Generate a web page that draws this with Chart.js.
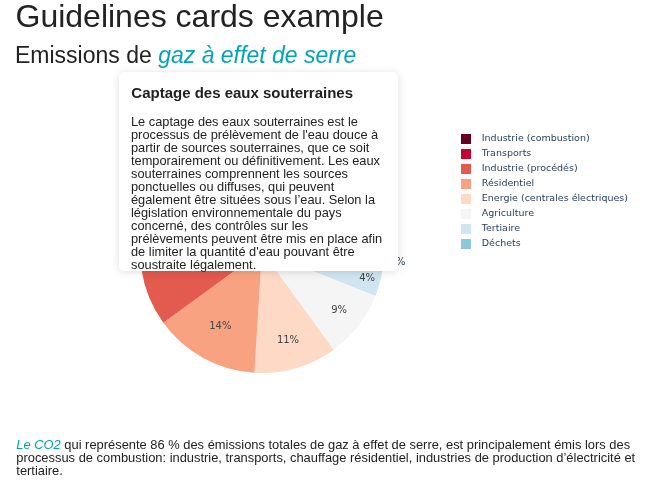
<!DOCTYPE html>
<html>
<head>
<meta charset="utf-8">
<script src="https://cdn.jsdelivr.net/npm/chart.js@4.4.1/dist/chart.umd.min.js"></script>
<style>
  html, body { margin:0; padding:0; width:654px; height:490px; overflow:hidden; background:#fff;
    font-family:"Liberation Sans", Arial, Helvetica, sans-serif; color:#222; }
  #chart { position:absolute; left:0; top:0; }
  .abs { position:absolute; white-space:nowrap; }
  #title { left:15.5px; top:-0.4px; font-size:32px; line-height:32px; color:#222; }
  #subtitle { left:15px; top:43.8px; font-size:23px; line-height:23px; color:#222; }
  .hl { color:#01a4b6; font-style:italic; }
  #card { position:absolute; left:119px; top:72px; width:279px; height:199px; background:#fff;
    border-radius:5px; box-shadow:0 1px 8px rgba(0,0,0,0.13); }
  #cardTitle { position:absolute; left:12.3px; top:12.8px; font-size:15px; line-height:15px; font-weight:bold; color:#222; white-space:nowrap; }
  #cardBody { position:absolute; left:12px; top:42.6px; width:253px; font-size:12.8px; line-height:13px; color:#222; }
  #foot { position:absolute; left:16.3px; top:437.8px; width:630px; font-size:12.9px; line-height:13px; color:#222; }
</style>
</head>
<body>
<canvas id="chart" width="654" height="490"></canvas>
<div id="title" class="abs">Guidelines cards example</div>
<div id="subtitle" class="abs">Emissions de <span class="hl">gaz à effet de serre</span></div>
<div id="card">
  <div id="cardTitle">Captage des eaux souterraines</div>
  <div id="cardBody">Le captage des eaux souterraines est le processus de prélèvement de l'eau douce à partir de sources souterraines, que ce soit temporairement ou définitivement. Les eaux souterraines comprennent les sources ponctuelles ou diffuses, qui peuvent également être situées sous l’eau. Selon la législation environnementale du pays concerné, des contrôles sur les prélèvements peuvent être mis en place afin de limiter la quantité d'eau pouvant être soustraite légalement.</div>
</div>
<div id="foot"><span class="hl">Le CO2</span> qui représente 86 % des émissions totales de gaz à effet de serre, est principalement émis lors des processus de combustion: industrie, transports, chauffage résidentiel, industries de production d’électricité et tertiaire.</div>

<script>
// ---- data (legend order) ----
const categories = ['Industrie (combustion)', 'Transports', 'Industrie (procédés)', 'Résidentiel',
  'Energie (centrales électriques)', 'Agriculture', 'Tertiaire', 'Déchets'];
const shares = [25, 20, 15, 14, 11, 9, 4, 2];
const sliceColors = ['#67001f', '#c6002f', '#e35a4e', '#f9a282', '#fdd9c6', '#f5f5f5', '#cfe5ef', '#8bc7de'];

// slices run counter-clockwise from 3 o'clock in the reference: feed them reversed, clockwise
const cjLabels = categories.slice().reverse();
const cjValues = shares.slice().reverse();
const cjColors = sliceColors.slice().reverse();

const legendFont = { family: 'DejaVu Sans', size: 9.5 };
const legendPad = 5, legendBox = 10;

// measure the widest legend label so the legend box starts where the reference has it
const mctx = document.createElement('canvas').getContext('2d');
mctx.font = legendFont.size + 'px "' + legendFont.family + '"';
let maxW = 0;
categories.forEach(c => { maxW = Math.max(maxW, mctx.measureText('  ' + c).width); });
const legendWidth = legendPad + legendBox + legendFont.size / 2 + maxW + 10;
const legendLeft = 456;
const padRight = 654 - legendLeft - legendWidth;

function lum(hex) {
  const h = hex.replace('#', '');
  const r = parseInt(h.substr(0, 2), 16), g = parseInt(h.substr(2, 2), 16), b = parseInt(h.substr(4, 2), 16);
  return (0.299 * r + 0.587 * g + 0.114 * b) / 255;
}

const pctLabels = {
  id: 'pctLabels',
  afterDatasetsDraw(chart) {
    const ctx = chart.ctx;
    const meta = chart.getDatasetMeta(0);
    const ds = chart.data.datasets[0];
    const total = ds.data.reduce((a, b) => a + b, 0);
    meta.data.forEach((arc, i) => {
      const p = arc.getProps(['startAngle', 'endAngle', 'outerRadius', 'x', 'y'], true);
      const span = (p.endAngle - p.startAngle) * 180 / Math.PI;
      const mid = (p.startAngle + p.endAngle) / 2;
      const txt = Math.round(ds.data[i] / total * 100) + '%';
      ctx.save();
      ctx.font = '10px "DejaVu Sans"';
      ctx.textBaseline = 'middle';
      if (span >= 10) {
        const f = Math.min(0.9, Math.max(0.6, 0.71 + (50.4 - span) * 0.005));
        ctx.fillStyle = lum(ds.backgroundColor[i]) < 0.5 ? '#ffffff' : '#444444';
        ctx.textAlign = 'center';
        ctx.fillText(txt, p.x + Math.cos(mid) * p.outerRadius * f, p.y + Math.sin(mid) * p.outerRadius * f);
      } else {
        const r = p.outerRadius + 6;
        ctx.fillStyle = '#2a3f5f';
        ctx.textAlign = Math.cos(mid) >= 0 ? 'left' : 'right';
        ctx.fillText(txt, p.x + Math.cos(mid) * r, p.y + Math.sin(mid) * r + 3);
      }
      ctx.restore();
    });
  }
};

new Chart(document.getElementById('chart'), {
  type: 'pie',
  data: {
    labels: cjLabels,
    datasets: [{ data: cjValues, backgroundColor: cjColors, borderWidth: 0, hoverOffset: 0 }]
  },
  options: {
    responsive: false,
    devicePixelRatio: 1,
    animation: false,
    rotation: 90,
    events: [],
    layout: { padding: { left: 68, right: padRight, top: 129, bottom: 117 } },
    plugins: {
      tooltip: { enabled: false },
      legend: {
        position: 'right',
        align: 'start',
        reverse: true,
        labels: {
          boxWidth: legendBox,
          boxHeight: legendBox,
          padding: legendPad,
          color: '#2a3f5f',
          font: legendFont,
          generateLabels(chart) {
            const ds = chart.data.datasets[0];
            return chart.data.labels.map((l, i) => ({
              text: '  ' + l,
              fillStyle: ds.backgroundColor[i],
              strokeStyle: ds.backgroundColor[i],
              lineWidth: 0,
              hidden: !chart.getDataVisibility(i),
              index: i,
              fontColor: '#2a3f5f'
            }));
          }
        }
      }
    }
  },
  plugins: [pctLabels]
});
</script>
</body>
</html>
